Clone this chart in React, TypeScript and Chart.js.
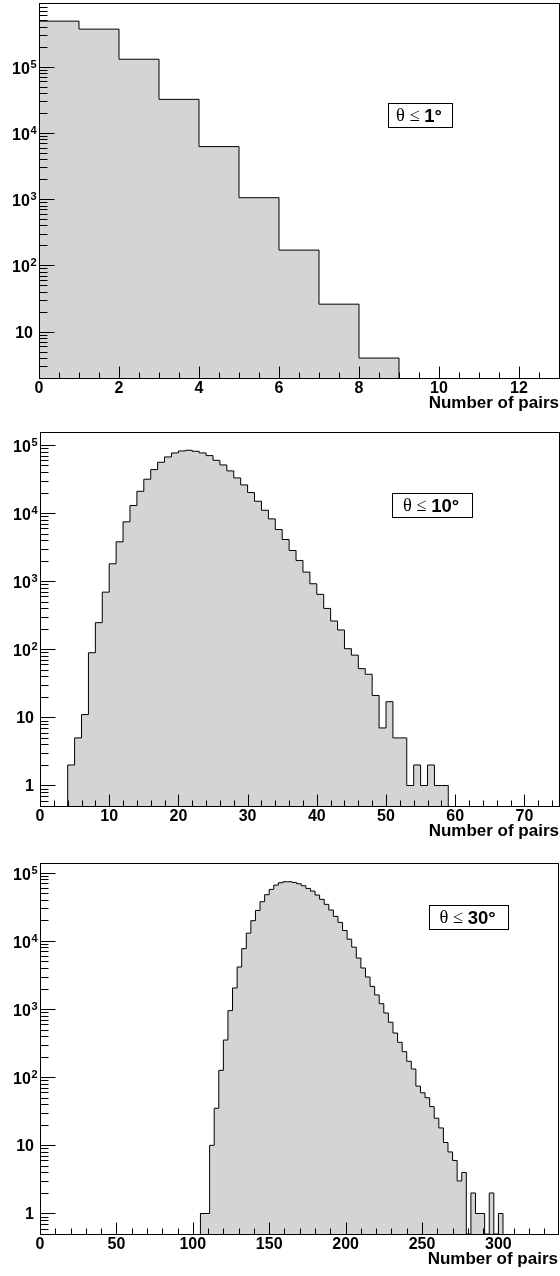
import React, { useEffect, useRef } from "react";
import { Chart, registerables } from "chart.js";

Chart.register(...registerables);

// ---------------- data ----------------
// Panel 1 : theta <= 1 deg, bins of width 1 starting at 0
const p1FirstBin = 0;
const p1BinWidth = 1;
const p1Counts = [485000, 367000, 129000, 32000, 6200, 1050, 170, 26, 4];
const p1XTicks = [0, 2, 4, 6, 8, 10, 12];
const p1YTicks = [10, 100, 1000, 10000, 100000];
const p1Label = ["θ ≤ ", "1°"];

// Panel 2 : theta <= 10 deg, bins of width 1 starting at 4
const p2FirstBin = 4;
const p2BinWidth = 1;
const p2Counts = [
  2, 5, 11, 89, 246, 690, 1800, 3780, 7430, 12900, 20900, 31400, 43500, 55700,
  66700, 76400, 81700, 83600, 80800, 76400, 69800, 59600, 50900, 41600, 32800,
  25900, 20000, 14900, 11000, 8220, 5730, 4090, 2820, 2015, 1360, 916, 640, 398,
  260, 192, 102, 82, 52, 43, 21, 7, 17, 5, 5, 1, 2, 1, 2, 1, 1,
];
const p2XTicks = [0, 10, 20, 30, 40, 50, 60, 70];
const p2YTicks = [1, 10, 100, 1000, 10000, 100000];
const p2Label = ["θ ≤ ", "10°"];

// Panel 3 : theta <= 30 deg, bins of width 3 starting at 105
const p3FirstBin = 105;
const p3BinWidth = 3;
const p3Counts = [
  1, 1, 10, 35, 126, 351, 947, 2040, 4140, 7690, 13000, 19800, 28000, 37600,
  47600, 57000, 65900, 71300, 73800, 73800, 72100, 69000, 64500, 58900, 53800,
  47100, 40700, 34400, 28400, 22900, 18700, 14200, 10600, 8100, 5600, 4000, 2950,
  2150, 1610, 1200, 875, 640, 445, 325, 237, 171, 132, 74, 59, 50, 37, 25, 18, 11,
  8, 6, 3, 4, 0, 2, 1, 1, 0, 2, 0, 1,
];
const p3XTicks = [0, 50, 100, 150, 200, 250, 300];
const p3YTicks = [1, 10, 100, 1000, 10000, 100000];
const p3Label = ["θ ≤ ", "30°"];

const xTitle = "Number of pairs";

// ---------------- style ----------------
const SANS = "'Liberation Sans', Arial, Helvetica, sans-serif";
const SERIF = "'Liberation Serif', 'Times New Roman', serif";
const FILL = "#d4d4d4";
const INK = "#000000";

Chart.defaults.font.family = SANS;

type PanelSpec = {
  top: number;
  height: number;
  first: number;
  width: number;
  counts: number[];
  xMin: number;
  xMax: number;
  yMin: number;
  yMax: number;
  xTicks: number[];
  yTicks: number[];
  xMinorStep: number;
  xMajorStep: number;
  label: string[];
  box: [number, number, number, number];
  pad: { top: number; right: number; bottom: number; left: number };
  yAxisW: number;
};

function histPoints(first: number, width: number, counts: number[], floor: number) {
  const pts: { x: number; y: number }[] = [];
  pts.push({ x: first, y: floor });
  counts.forEach((c, i) => pts.push({ x: first + i * width, y: c > 0 ? c : floor }));
  const end = first + counts.length * width;
  const last = counts[counts.length - 1];
  pts.push({ x: end, y: last > 0 ? last : floor });
  pts.push({ x: end, y: floor });
  return pts;
}

function decorPlugin(spec: PanelSpec) {
  return {
    id: "rootDecor",
    afterDatasetsDraw(chart: any) {
      const { ctx, chartArea: a } = chart;
      const xs = chart.scales.x;
      const ys = chart.scales.y;
      const L = Math.floor(a.left) + 0.5;
      const R = Math.floor(a.right) + 0.5;
      const T = Math.floor(a.top) + 0.5;
      const B = Math.floor(a.bottom) + 0.5;
      ctx.save();
      ctx.strokeStyle = INK;
      ctx.lineWidth = 1;
      ctx.beginPath();
      // y ticks (log): majors at decades, minors at 2..9
      const lo = ys.min;
      const hi = ys.max;
      for (let e = Math.floor(Math.log10(lo)) - 1; e <= Math.ceil(Math.log10(hi)); e++) {
        for (let m = 1; m <= 9; m++) {
          const v = m * Math.pow(10, e);
          if (v < lo * 0.9999 || v > hi * 1.0001) continue;
          const py = Math.round(ys.getPixelForValue(v)) + 0.5;
          const len = m === 1 ? 15 : 8;
          ctx.moveTo(L, py);
          ctx.lineTo(L + len, py);
        }
      }
      // x ticks
      const n = Math.floor((spec.xMax - spec.xMin) / spec.xMinorStep + 1e-9);
      for (let i = 0; i <= n; i++) {
        const v = spec.xMin + i * spec.xMinorStep;
        const px = Math.round(xs.getPixelForValue(v)) + 0.5;
        const r = v / spec.xMajorStep;
        const major = Math.abs(r - Math.round(r)) < 1e-6;
        ctx.moveTo(px, B);
        ctx.lineTo(px, B - (major ? 12 : 6));
      }
      ctx.stroke();
      ctx.strokeRect(L, T, R - L, B - T);

      // y labels with real superscripts (10, 10², ...)
      ctx.fillStyle = INK;
      ctx.textBaseline = "alphabetic";
      ctx.textAlign = "right";
      const baseFont = `bold 16px ${SANS}`;
      const expFont = `bold 11px ${SANS}`;
      for (const v of spec.yTicks) {
        const py = ys.getPixelForValue(v);
        const e = Math.round(Math.log10(v));
        if (e <= 1) {
          ctx.font = baseFont;
          ctx.fillText(e === 0 ? "1" : "10", L - 6.5, py + 6);
        } else {
          const expText = String(e);
          ctx.font = expFont;
          const ew = ctx.measureText(expText).width;
          const right = L - 3;
          ctx.fillText(expText, right, py + 1);
          ctx.font = baseFont;
          ctx.fillText("10", right - ew - 0.5, py + 7);
        }
      }

      // label box
      const [bx0, by0, bx1, by1] = spec.box;
      ctx.fillStyle = "#ffffff";
      ctx.fillRect(bx0, by0, bx1 - bx0, by1 - by0);
      ctx.strokeRect(bx0 + 0.5, by0 + 0.5, bx1 - bx0, by1 - by0);
      const f1 = `18.5px ${SERIF}`;
      const f2 = `bold 18.5px ${SANS}`;
      ctx.font = f1;
      const w1 = ctx.measureText(spec.label[0]).width;
      ctx.font = f2;
      const w2 = ctx.measureText(spec.label[1]).width;
      const cx = (bx0 + bx1) / 2 - 1;
      const cy = (by0 + by1) / 2 + 1.5;
      const x0 = cx - (w1 + w2) / 2;
      ctx.fillStyle = INK;
      ctx.textAlign = "left";
      ctx.textBaseline = "middle";
      ctx.font = f1;
      ctx.fillText(spec.label[0], x0, cy);
      ctx.font = f2;
      ctx.fillText(spec.label[1], x0 + w1, cy);
      ctx.restore();
    },
  };
}

function makeConfig(spec: PanelSpec): any {
  const tickFont = { family: SANS, weight: "bold" as const, size: 16 };
  return {
    type: "line",
    data: {
      datasets: [
        {
          data: histPoints(spec.first, spec.width, spec.counts, spec.yMin),
          stepped: true,
          fill: "start",
          backgroundColor: FILL,
          borderColor: INK,
          borderWidth: 1,
          pointRadius: 0,
          tension: 0,
        },
      ],
    },
    options: {
      animation: false,
      responsive: false,
      devicePixelRatio: 1,
      events: [],
      layout: { padding: spec.pad },
      plugins: {
        legend: { display: false },
        tooltip: { enabled: false },
        title: { display: false },
      },
      scales: {
        x: {
          type: "linear",
          min: spec.xMin,
          max: spec.xMax,
          grid: { display: false, drawTicks: false },
          border: { display: false },
          afterBuildTicks: (s: any) => {
            s.ticks = spec.xTicks.map((v) => ({ value: v }));
          },
          afterFit: (s: any) => {
            s.height = 36;
            s.paddingLeft = 0;
            s.paddingRight = 0;
          },
          ticks: {
            autoSkip: false,
            maxRotation: 0,
            minRotation: 0,
            padding: 1,
            color: INK,
            font: tickFont,
            callback: (v: any) => String(v),
          },
          title: {
            display: true,
            text: xTitle,
            align: "end",
            color: INK,
            padding: 0,
            font: { family: SANS, weight: "bold", size: 17 },
          },
        },
        y: {
          type: "logarithmic",
          min: spec.yMin,
          max: spec.yMax,
          grid: { display: false, drawTicks: false },
          border: { display: false },
          afterBuildTicks: (s: any) => {
            s.ticks = spec.yTicks.map((v) => ({ value: v }));
          },
          afterFit: (s: any) => {
            s.width = spec.yAxisW;
            s.paddingTop = 0;
            s.paddingBottom = 0;
          },
          ticks: {
            display: false,
            autoSkip: false,
          },
        },
      },
    },
    plugins: [decorPlugin(spec)],
  };
}

const panels: PanelSpec[] = [
  {
    top: 0,
    height: 425,
    first: p1FirstBin,
    width: p1BinWidth,
    counts: p1Counts,
    xMin: 0,
    xMax: 13,
    yMin: 2,
    yMax: 9.1e5,
    xTicks: p1XTicks,
    yTicks: p1YTicks,
    xMinorStep: 0.5,
    xMajorStep: 2,
    label: p1Label,
    box: [388, 103, 452, 127],
    pad: { top: 3, right: 1, bottom: 11, left: 0 },
    yAxisW: 39,
  },
  {
    top: 425,
    height: 430,
    first: p2FirstBin,
    width: p2BinWidth,
    counts: p2Counts,
    xMin: 0,
    xMax: 75,
    yMin: 0.5,
    yMax: 1.55e5,
    xTicks: p2XTicks,
    yTicks: p2YTicks,
    xMinorStep: 2,
    xMajorStep: 10,
    label: p2Label,
    box: [392, 68, 472, 92],
    pad: { top: 7, right: 1, bottom: 13, left: 0 },
    yAxisW: 40,
  },
  {
    top: 855,
    height: 421,
    first: p3FirstBin,
    width: p3BinWidth,
    counts: p3Counts,
    xMin: 0,
    xMax: 339,
    yMin: 0.5,
    yMax: 1.39e5,
    xTicks: p3XTicks,
    yTicks: p3YTicks,
    xMinorStep: 10,
    xMajorStep: 50,
    label: p3Label,
    box: [429, 50, 508, 74],
    pad: { top: 8, right: 2, bottom: 6, left: 0 },
    yAxisW: 40,
  },
];

function Panel({ spec }: { spec: PanelSpec }) {
  const ref = useRef<HTMLCanvasElement | null>(null);
  useEffect(() => {
    if (!ref.current) return;
    const chart = new Chart(ref.current, makeConfig(spec));
    return () => chart.destroy();
  }, [spec]);
  return (
    <canvas
      ref={ref}
      width={560}
      height={spec.height}
      style={{
        position: "absolute",
        left: 0,
        top: spec.top,
        width: 560,
        height: spec.height,
        display: "block",
      }}
    />
  );
}

export default function App() {
  return (
    <div
      style={{
        position: "absolute",
        left: 0,
        top: 0,
        width: 560,
        height: 1276,
        background: "#ffffff",
        overflow: "hidden",
      }}
    >
      {panels.map((p, i) => (
        <Panel key={i} spec={p} />
      ))}
    </div>
  );
}
